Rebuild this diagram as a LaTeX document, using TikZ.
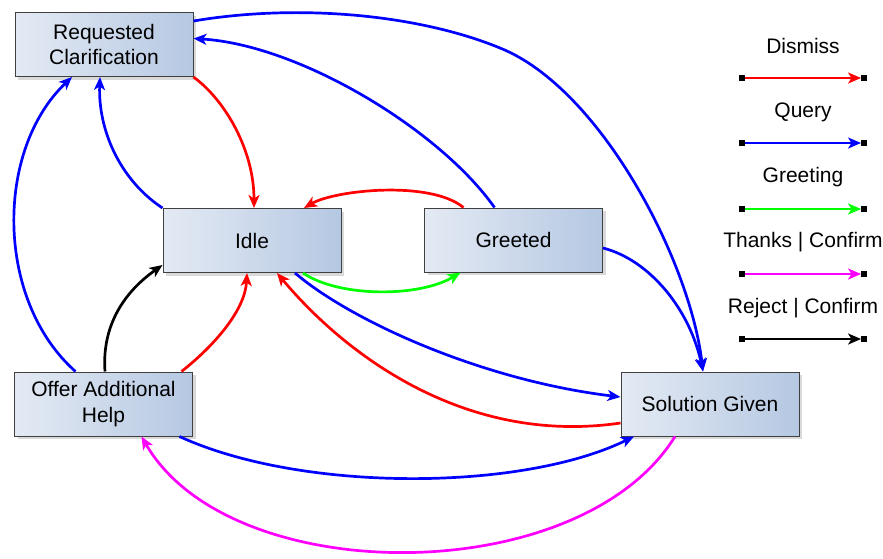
\documentclass[tikz,border=0pt]{standalone}
\usepackage{fontspec}
\setmainfont{Liberation Sans}
\usetikzlibrary{arrows.meta,shadows,calc}
\definecolor{boxlight}{HTML}{E4EAF4}
\definecolor{boxdark}{HTML}{B5C8E2}
\definecolor{boxline}{HTML}{404040}
\definecolor{dismisscol}{HTML}{FF0000}
\definecolor{querycol}{HTML}{0000FF}
\definecolor{greetcol}{HTML}{00FF00}
\definecolor{thankscol}{HTML}{FF00FF}
\begin{document}
\begin{tikzpicture}[x=1pt,y=-1pt,
  state/.style={draw=boxline, line width=1pt, left color=boxlight, right color=boxdark,
    minimum width=178pt, minimum height=64pt, inner sep=0pt, align=center,
    font=\fontsize{21}{25.5}\selectfont,
    drop shadow={shadow xshift=3pt, shadow yshift=-3pt, opacity=0.3}},
  trans/.style={line width=2.7pt, -{Stealth[length=13pt,width=11pt,inset=3.5pt]}},
  dismiss/.style={trans, draw=dismisscol},
  query/.style={trans, draw=querycol},
  greeting/.style={trans, draw=greetcol},
  thanks/.style={trans, draw=thankscol},
  reject/.style={trans, draw=black},
  legtext/.style={font=\fontsize{21}{25}\selectfont, inner sep=0pt},
  endsq/.style={fill=black, minimum size=5.5pt, inner sep=0pt}
]
\useasboundingbox (0,0) rectangle (883,558);

% states
\node[state] (rc)   at (104,44.5)  {Requested\\Clarification};
\node[state] (idle) at (252,240.5) {Idle};
\node[state] (gr)   at (513.5,240) {Greeted};
\node[state] (oah)  at (103.5,404) {Offer Additional\\Help};
\node[state] (sg)   at (710,404)   {Solution Given};

% Dismiss
\draw[dismiss] (rc.south east) .. controls (225,100) and (254,150) .. ($(idle.north)+(2,0)$);
\draw[dismiss] ($(gr.north)+(-50,0)$) .. controls (430,180) and (335,190) .. ($(idle.north)+(52,0)$);
\draw[dismiss] ($(oah.north)+(78,0)$) .. controls (215,345) and (245,310) .. ($(idle.south)+(-5,0)$);
\draw[dismiss] ($(sg.west)+(0,19)$) .. controls (470,445) and (350,360) .. ($(idle.south)+(25,0)$);

% Query
\draw[query] ($(rc.north east)+(0,9)$) .. controls (300,3) and (420,15) .. (500,48)
  .. controls (600,88) and (690,260) .. ($(sg.north)+(-7,0)$);
\draw[query] ($(gr.north)+(-19,0)$) .. controls (440,130) and (300,45) .. ($(rc.east)+(0,-6)$);
\draw[query] (idle.north west) .. controls (120,180) and (98,130) .. ($(rc.south)+(-4,0)$);
\draw[query] ($(oah.north)+(-28,0)$) .. controls (-5,300) and (-5,150) .. ($(rc.south)+(-32,0)$);
\draw[query] ($(idle.south)+(43,0)$) .. controls (350,320) and (480,380) .. ($(sg.west)+(0,-7)$);
\draw[query] ($(oah.south)+(76,0)$) .. controls (300,492) and (520,492) .. ($(sg.south)+(-76,0)$);
\draw[query] ($(gr.east)+(0,8)$) .. controls (650,260) and (690,310) .. ($(sg.north)+(-7,0)$);

% Greeting
\draw[greeting] ($(idle.south)+(51,0)$) .. controls (340,298) and (420,297) .. ($(gr.south)+(-53,0)$);

% Thanks | Confirm
\draw[thanks] ($(sg.south)+(-35,0)$) .. controls (580,590) and (230,590) .. ($(oah.south)+(38,0)$);

% Reject | Confirm
\draw[reject] ($(oah.north)+(1.5,0)$) .. controls (102,330) and (120,295) .. ($(idle.south west)+(0,-8)$);

% legend
\node[legtext] (t1) at (803,46)  {Dismiss};
\node[legtext] (t2) at (803,112) {Query};
\node[legtext] (t3) at (803,177) {Greeting};
\node[legtext] (t4) at (803,242) {Thanks | Confirm};
\node[legtext] (t5) at (803,308) {Reject | Confirm};
\foreach \i/\y/\s in {1/78/dismiss, 2/143/query, 3/209/greeting, 4/274/thanks, 5/339/reject} {
  \node[endsq] (a\i) at (742,\y) {};
  \node[endsq] (b\i) at (864,\y) {};
  \draw[\s] (a\i) -- (b\i);
}
\end{tikzpicture}
\end{document}
